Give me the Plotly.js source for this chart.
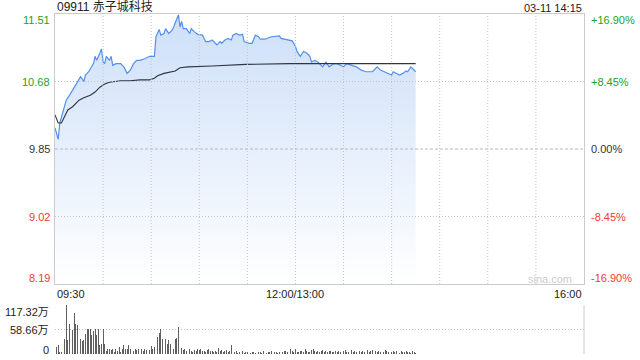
<!DOCTYPE html>
<html>
<head>
<meta charset="utf-8">
<script src="https://cdn.plot.ly/plotly-3.0.1.min.js"></script>
<style>html,body{margin:0;padding:0;background:#fff;}#chart{width:640px;height:360px;}</style>
</head>
<body>
<div id="chart"></div>
<script>
// ---- data ----
const stockTitle = "09911 赤子城科技";
const stampText = "03-11 14:15";
const prevClose = 9.85;

// minutes since 09:30 (trading minutes; 150 = 12:00/13:00)
const priceMin = [0,2,3,6,7,9,11,13,16,18,19,21,23,24,25,26,28,29,30,31,32,34,35,36,38,41,43,45,47,49,51,53,56,59,62,63,65,66,68,69,71,73,74,76,77,78,79,80,82,84,85,87,89,92,94,96,98,100,101,103,104,106,108,110,111,113,115,117,118,121,123,125,127,128,131,135,138,140,141,144,148,150,151,153,154,155,157,159,160,162,164,165,166,167,169,171,174,176,178,180,182,185,188,191,194,198,200,201,203,205,208,210,211,213,215,217,219,220,222,223,225];
const priceVal = [10.11,9.97,10.17,10.37,10.45,10.51,10.58,10.64,10.74,10.68,10.76,10.80,10.88,10.90,10.99,10.94,11.03,11.08,10.92,10.90,10.99,10.94,10.99,10.88,10.90,10.90,10.86,10.78,10.82,10.90,10.94,10.94,10.96,10.99,10.99,11.23,11.32,11.25,11.27,11.33,11.27,11.31,11.35,11.44,11.50,11.35,11.42,11.33,11.33,11.27,11.33,11.29,11.26,11.25,11.17,11.17,11.19,11.15,11.13,11.17,11.15,11.19,11.21,11.19,11.25,11.27,11.25,11.26,11.17,11.15,11.15,11.25,11.23,11.20,11.20,11.23,11.24,11.24,11.21,11.20,11.18,11.11,11.05,10.99,11.03,11.05,11.03,10.99,10.92,10.94,10.92,10.90,10.88,10.86,10.92,10.86,10.90,10.90,10.88,10.86,10.90,10.88,10.86,10.82,10.80,10.80,10.84,10.86,10.82,10.80,10.78,10.76,10.80,10.78,10.76,10.78,10.81,10.80,10.86,10.84,10.80];

const avgMin = [0,2,4,6,8,11,15,18,22,25,28,31,34,41,47,53,59,62,64,68,72,75,78,83,98,119,147,178,225];
const avgVal = [10.27,10.17,10.17,10.25,10.33,10.37,10.45,10.48,10.51,10.55,10.61,10.65,10.67,10.69,10.69,10.70,10.70,10.72,10.75,10.78,10.80,10.81,10.85,10.86,10.87,10.89,10.90,10.90,10.90];

// volume per minute (万股), minute index 0..225
const volume = [59,16,21,5,4,33,35,117,33,73,33,57,97,73,69,35,35,31,33,49,59,61,59,45,55,59,45,59,21,25,59,25,8,
 11,13,10,11,5,13,7,17,5,13,21,11,13,21,11,13,7,11,10,13,17,11,8,12,9,14,10,18,12,16,
 51,41,51,61,37,49,35,25,33,25,41,13,37,38,65,45,14,
 9,11,6,10,12,8,5,9,7,13,9,11,6,8,5,9,12,6,7,4,
 8,5,14,6,9,4,7,10,5,6,21,8,4,6,3,5,4,7,3,5,
 4,6,3,5,4,3,6,4,5,3,6,4,3,5,4,6,3,4,5,3,
 4,3,5,6,8,4,10,13,6,4,11,5,4,6,8,5,12,6,4,5,
 9,13,6,5,8,4,6,9,5,7,4,6,8,5,4,6,5,7,4,5,
 6,9,5,4,8,10,5,7,4,9,6,5,8,4,7,10,5,6,9,4,
 6,5,8,4,7,5,9,6,4,8,5,6,4,7,5,3,6,4,5,7,4,5,3,6,4,3];

const priceTicks = [8.19, 9.02, 9.85, 10.68, 11.51];
const priceTickText = ["8.19", "9.02", "9.85", "10.68", "11.51"];
const pctTicks = [-16.90, -8.45, 0, 8.45, 16.90];
const pctTickText = ["-16.90%", "-8.45%", "0.00%", "+8.45%", "+16.90%"];
const volTicks = [0, 58.66, 117.32];
const volTickText = ["0", "58.66万", "117.32万"];
const timeTicks = [0, 150, 330];
const timeTickText = ["09:30", "12:00/13:00", "16:00"];
const gridMins = [30,60,90,120,150,180,210,240,270,300];

// ---- styling helpers ----
const GREEN = "#22a322", RED = "#f03a3a", DARK = "#333333";
const DOT = "1px,2px";
function colorFor(v, ref) { return v > ref ? GREEN : (v < ref ? RED : DARK); }
const pctVal = priceVal.map(p => (p / prevClose - 1) * 100);
const volMin = volume.map((_, i) => i);

const traces = [
  {
    x: priceMin, y: priceVal, type: "scatter", mode: "lines",
    line: {color: "#5290f0", width: 1.2},
    fill: "tozeroy",
    fillgradient: {type: "vertical", start: priceTicks[0], stop: priceTicks[4],
      colorscale: [[0, "rgba(255,255,255,1)"], [1, "rgba(205,223,248,1)"]]},
    xaxis: "x", yaxis: "y", hoverinfo: "skip"
  },
  {
    x: avgMin, y: avgVal, type: "scatter", mode: "lines",
    line: {color: "#2f3542", width: 1.1},
    xaxis: "x", yaxis: "y", hoverinfo: "skip"
  },
  {
    x: priceMin, y: pctVal, type: "scatter", mode: "lines",
    line: {color: "rgba(0,0,0,0)", width: 0},
    xaxis: "x", yaxis: "y3", hoverinfo: "skip"
  },
  {
    x: volMin, y: volume, type: "bar", width: 0.55,
    marker: {color: "#5f5f5f", line: {width: 0}},
    xaxis: "x2", yaxis: "y2", hoverinfo: "skip"
  }
];

const mainBottom = 0.2059;
const annotations = [
  {text: stockTitle, xref: "paper", yref: "paper", x: 0, y: 1, xanchor: "left", yanchor: "bottom",
   showarrow: false, font: {size: 12, color: "#222"}, yshift: -2},
  {text: stampText, xref: "paper", yref: "paper", x: 1, y: 1, xanchor: "right", yanchor: "bottom",
   showarrow: false, font: {size: 11, color: "#222"}, yshift: -2},
  {text: "sina.com", xref: "paper", yref: "paper", x: 1, y: mainBottom, xanchor: "right", yanchor: "middle",
   showarrow: false, font: {size: 11, color: "#cccccc"}, xshift: -10, yshift: 5}
];
// edge labels sit just inside the frame, as in the reference
function edgeShift(i, n) { return i === 0 ? 6 : (i === n - 1 ? -6 : 0); }
priceTicks.forEach((v, i) => {
  annotations.push({text: priceTickText[i], xref: "paper", yref: "y", x: 0, y: v,
    xanchor: "right", yanchor: "middle", showarrow: false, xshift: -3, yshift: edgeShift(i, priceTicks.length),
    font: {size: 11, color: colorFor(v, prevClose)}});
});
pctTicks.forEach((v, i) => {
  annotations.push({text: pctTickText[i], xref: "paper", yref: "y3", x: 1, y: v,
    xanchor: "left", yanchor: "middle", showarrow: false, xshift: 5, yshift: edgeShift(i, pctTicks.length),
    font: {size: 11, color: colorFor(v, 0)}});
});
timeTicks.forEach((t, i) => {
  annotations.push({text: timeTickText[i], xref: "x", yref: "paper", x: t, y: mainBottom,
    xanchor: i === 0 ? "left" : (i === timeTicks.length - 1 ? "right" : "center"), yanchor: "top",
    showarrow: false, yshift: -2, font: {size: 11, color: "#222"}});
});
volTicks.forEach((v, i) => {
  annotations.push({text: volTickText[i], xref: "paper", yref: "y2", x: 0, y: v,
    xanchor: "right", yanchor: "middle", showarrow: false, xshift: -4,
    yshift: i === 0 ? 4 : (i === volTicks.length - 1 ? -7 : 0), font: {size: 11, color: "#222"}});
});

// grid lines drawn above the fill (as in the reference)
const shapes = [];
gridMins.forEach(m => shapes.push({type: "line", xref: "x", yref: "y domain", x0: m, x1: m, y0: 0, y1: 1,
  line: {color: "#c4c4c4", width: 1, dash: DOT}, layer: "above"}));
priceTicks.slice(1, -1).forEach(v => shapes.push({type: "line", xref: "x domain", yref: "y", x0: 0, x1: 1, y0: v, y1: v,
  line: {color: v === prevClose ? "#b8b8b8" : "#c4c4c4", width: 1, dash: v === prevClose ? "3px,2px" : DOT}, layer: "above"}));
shapes.push({type: "line", xref: "paper", yref: "y2 domain", x0: 1, x1: 1, y0: 0, y1: 1,
  line: {color: "#cccccc", width: 1}});

const layout = {
  width: 640, height: 360,
  margin: {l: 55, r: 56, t: 14, b: 6, pad: 0},
  paper_bgcolor: "#ffffff", plot_bgcolor: "#ffffff",
  showlegend: false,
  font: {family: '"Liberation Sans", Arial, "Noto Sans CJK SC", sans-serif', size: 11, color: DARK},
  xaxis: {range: [0, 330], showticklabels: false, ticks: "", showgrid: false,
    zeroline: false, showline: true, linecolor: "#cccccc", mirror: true, anchor: "y", fixedrange: true},
  yaxis: {domain: [mainBottom, 1], range: [priceTicks[0], priceTicks[4]], tickvals: priceTicks,
    showticklabels: false, ticks: "", showgrid: false, zeroline: false,
    showline: true, linecolor: "#cccccc", mirror: true},
  yaxis3: {overlaying: "y", side: "right", anchor: "x", range: [pctTicks[0], pctTicks[4]], tickvals: pctTicks,
    showticklabels: false, ticks: "", showgrid: false, zeroline: false, showline: false},
  xaxis2: {range: [0, 330], anchor: "y2", tickvals: [0], showticklabels: false, ticks: "",
    showgrid: true, gridcolor: "#c4c4c4", griddash: DOT, zeroline: false, showline: false},
  yaxis2: {domain: [0, 0.1441], range: [0, volTicks[2]], tickvals: volTicks, showticklabels: false, ticks: "",
    showgrid: true, gridcolor: "#c4c4c4", griddash: DOT, zeroline: false, showline: false},
  shapes: shapes,
  annotations: annotations,
  bargap: 0
};

Plotly.newPlot("chart", traces, layout, {displayModeBar: false, staticPlot: true});
</script>
</body>
</html>
